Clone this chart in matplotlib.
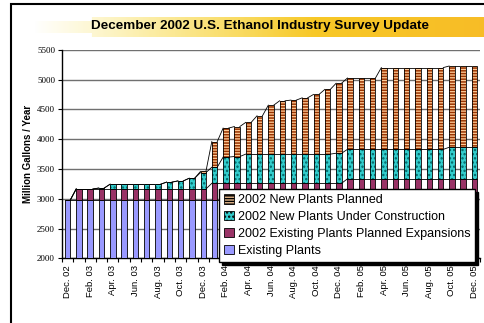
import matplotlib.pyplot as plt
import numpy as np
from matplotlib.patches import Patch, Rectangle

# monthly, Dec. 02 .. Dec. 05
months = ["Dec. 02", "Jan. 03", "Feb. 03", "Mar. 03", "Apr. 03", "May. 03", "Jun. 03",
          "Jul. 03", "Aug. 03", "Sep. 03", "Oct. 03", "Nov. 03", "Dec. 03",
          "Jan. 04", "Feb. 04", "Mar. 04", "Apr. 04", "May. 04", "Jun. 04",
          "Jul. 04", "Aug. 04", "Sep. 04", "Oct. 04", "Nov. 04", "Dec. 04",
          "Jan. 05", "Feb. 05", "Mar. 05", "Apr. 05", "May. 05", "Jun. 05",
          "Jul. 05", "Aug. 05", "Sep. 05", "Oct. 05", "Nov. 05", "Dec. 05"]

existing = [2980] * 37
expansions = [0] + [185] * 12 + [280] * 12 + [355] * 12
under_construction = [0, 0, 0, 15, 80, 80, 80, 80, 80, 115, 135, 180, 275,
                      270, 440, 450, 490, 490, 490, 490, 490, 490, 490, 490, 505,
                      495, 495, 495, 495, 495, 495, 495, 495, 495, 530, 530, 530]
planned = [0] * 12 + [20, 431, 487, 504, 533, 644, 823, 896, 908, 946, 1003, 1087, 1176,
                      1199, 1199, 1199, 1374, 1374, 1374, 1374, 1374, 1374, 1365, 1365, 1365]

series = [
    ("Existing Plants", existing, "#9999FF", None, None),
    ("2002 Existing Plants Planned Expansions", expansions, "#993366", None, None),
    ("2002 New Plants Under Construction", under_construction, "#33CCCC", "....", "#006666"),
    ("2002 New Plants Planned", planned, "#FFCC99", "------", "#993300"),
]

plt.rcParams['font.family'] = ['Liberation Sans', 'DejaVu Sans']
plt.rcParams['hatch.linewidth'] = 1.1

fig = plt.figure(figsize=(4.84, 3.23), dpi=100)
ax = fig.add_axes([0.128, 0.2003, 0.864, 0.645])

x = np.arange(len(months))
w = 0.48
bottom = np.zeros(len(months))
handles = []
for name, vals, fc, hatch, hc in series:
    vals = np.array(vals, dtype=float)
    if hatch:
        ax.bar(x, vals, w, bottom=bottom, color=fc, hatch=hatch, edgecolor=hc,
               linewidth=0, zorder=3)
        ax.bar(x, vals, w, bottom=bottom, facecolor="none", edgecolor="black",
               linewidth=0.6, zorder=4)
    else:
        ax.bar(x, vals, w, bottom=bottom, color=fc, edgecolor="black",
               linewidth=0.6, zorder=3)
    top = bottom + vals
    # series lines between bars
    for i in range(len(x) - 1):
        ax.plot([x[i] + w / 2, x[i + 1] - w / 2], [top[i], top[i + 1]],
                color="black", lw=0.6, zorder=2)
    handles.append(Patch(facecolor=fc, hatch=hatch, edgecolor="black", linewidth=0.6,
                         label=name))
    bottom = top

ax.set_xlim(-0.5, len(months) - 0.5)
ax.set_ylim(2000, 5500)
ax.set_yticks(np.arange(2000, 5501, 500))
ax.set_yticklabels([str(v) for v in range(2000, 5501, 500)], family="Liberation Serif",
                   fontsize=6.5)
ax.set_xticks(x[::2])
ax.set_xticklabels(months[::2], rotation=90, fontsize=6.8)
ax.set_xticks(np.arange(-0.5, len(months), 1), minor=True)
ax.tick_params(axis="x", which="major", length=0, pad=5)
ax.tick_params(axis="x", which="minor", length=3, width=0.8)
ax.tick_params(axis="y", length=3, width=0.8, pad=2)
ax.yaxis.grid(True, color="#707070", lw=1, zorder=0)
ax.set_axisbelow(True)
for s in ["top", "right"]:
    ax.spines[s].set_visible(False)
ax.spines["left"].set_linewidth(1)
ax.spines["bottom"].set_linewidth(1)
ax.set_ylabel("Million Gallons / Year", fontsize=7, fontweight="bold", labelpad=3)

leg = ax.legend(handles=handles[::-1], loc="upper left", bbox_to_anchor=(219 / 484, 1 - 189 / 323),
                bbox_transform=fig.transFigure, borderaxespad=0, fontsize=9,
                handlelength=0.8, handleheight=0.8, handletextpad=0.3, labelspacing=0.38,
                borderpad=0.4, fancybox=False, shadow={"color": "black", "alpha": 1},
                framealpha=1)
leg.get_frame().set_edgecolor("black")
leg.get_frame().set_linewidth(1)
leg.set_zorder(10)

# title brush stroke
bg = fig.add_axes([33 / 484, 1 - 37 / 323, 1 - 33 / 484, 20 / 323])
cols = 460
img = np.zeros((20, cols, 4))
img[..., 0] = 0.97
img[..., 1] = np.linspace(0.86, 0.74, cols)
img[..., 2] = 0.15
img[..., 3] = np.clip(np.linspace(0, 1.6, cols), 0, 1)
img[:4, :60, 3] = 0
img[-4:, :60, 3] = 0
bg.imshow(img, aspect="auto")
bg.axis("off")
fig.text(260 / 484, 1 - 26 / 323, "December 2002 U.S. Ethanol Industry Survey Update",
         ha="center", va="center", fontsize=9.7, fontweight="bold")

fig.patches.append(Rectangle((11 / 484, -0.05), 1.1, 1 - 4 / 323 + 0.05, transform=fig.transFigure,
                             fill=False, edgecolor="black", linewidth=1.5))

fig.savefig("out.png", dpi=100)
